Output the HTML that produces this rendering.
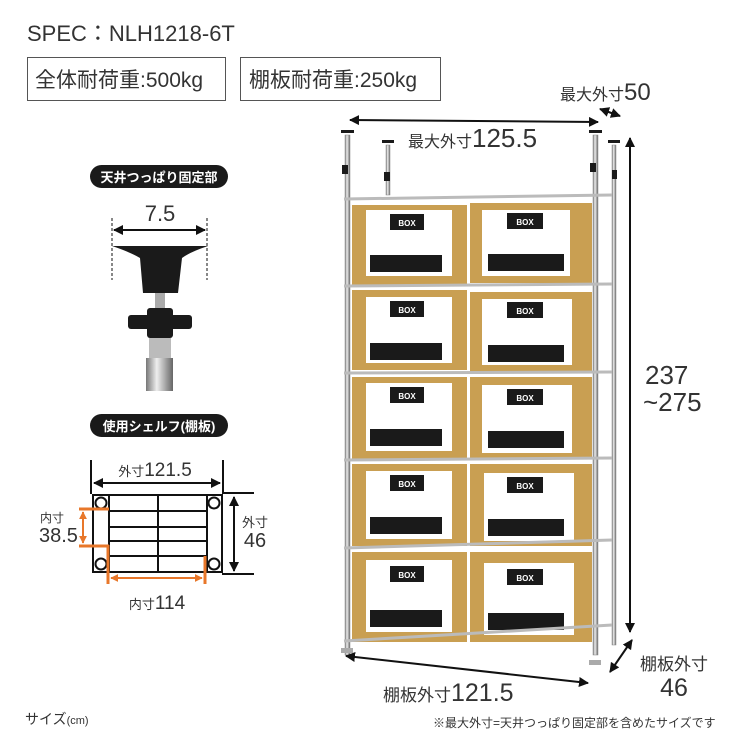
<!DOCTYPE html>
<html><head><meta charset="utf-8"><style>
body{margin:0;background:#fff}
svg{display:block;font-family:"Liberation Sans","Noto Sans CJK JP",sans-serif}
</style></head><body>
<svg width="750" height="750" viewBox="0 0 750 750" xmlns="http://www.w3.org/2000/svg">
<defs>
<marker id="a" viewBox="0 0 10 10" refX="9" refY="5" markerWidth="5" markerHeight="5" orient="auto-start-reverse"><path d="M0,0L10,5L0,10z" fill="#111"/></marker>
<marker id="o" viewBox="0 0 10 10" refX="9" refY="5" markerWidth="4" markerHeight="4" orient="auto-start-reverse"><path d="M0,0L10,5L0,10z" fill="#e8772a"/></marker>
<linearGradient id="pole" x1="0" x2="1"><stop offset="0" stop-color="#777"/><stop offset=".4" stop-color="#eee"/><stop offset="1" stop-color="#666"/></linearGradient>
</defs>
<text x="27" y="41" font-size="22" fill="#333">SPEC：NLH1218-6T</text>
<rect x="27.5" y="57.5" width="198" height="43" fill="#fff" stroke="#555"/>
<text x="35" y="87" font-size="21" fill="#333">全体耐荷重:500kg</text>
<rect x="240.5" y="57.5" width="200" height="43" fill="#fff" stroke="#555"/>
<text x="249" y="87" font-size="21" fill="#333">棚板耐荷重:250kg</text>

<!-- left panel -->
<rect x="90" y="165" width="138" height="23" rx="11.5" fill="#1a1a1a"/>
<text x="159" y="182" font-size="13" font-weight="bold" fill="#fff" text-anchor="middle">天井つっぱり固定部</text>
<text x="160" y="221" font-size="22" fill="#333" text-anchor="middle">7.5</text>
<line x1="112" y1="218" x2="112" y2="280" stroke="#111" stroke-dasharray="3,2"/>
<line x1="207" y1="218" x2="207" y2="280" stroke="#111" stroke-dasharray="3,2"/>
<line x1="114" y1="230" x2="205" y2="230" stroke="#111" stroke-width="2" marker-start="url(#a)" marker-end="url(#a)"/>
<path d="M112,246 L208,246 Q190,252 182,258 L178,293 L143,293 L140,258 Q130,252 112,246z" fill="#1a1a1a"/>
<rect x="155" y="293" width="10" height="20" fill="#aaa"/>
<rect x="128" y="315" width="64" height="14" rx="3" fill="#1a1a1a"/>
<rect x="147" y="308" width="26" height="30" rx="3" fill="#1a1a1a"/>
<rect x="149" y="338" width="22" height="20" fill="#bbb"/>
<rect x="146" y="358" width="27" height="33" fill="url(#pole)"/>

<rect x="90" y="414" width="138" height="23" rx="11.5" fill="#1a1a1a"/>
<text x="159" y="431" font-size="13" font-weight="bold" fill="#fff" text-anchor="middle">使用シェルフ(棚板)</text>
<text x="155" y="476" font-size="19" fill="#333" text-anchor="middle"><tspan font-size="13">外寸</tspan>121.5</text>
<line x1="91" y1="460" x2="91" y2="494" stroke="#111" stroke-width="2"/>
<line x1="223" y1="460" x2="223" y2="494" stroke="#111" stroke-width="2"/>
<line x1="94" y1="483" x2="220" y2="483" stroke="#111" stroke-width="2" marker-start="url(#a)" marker-end="url(#a)"/>
<g stroke="#111" stroke-width="2" fill="none">
<rect x="93" y="495" width="129" height="77"/>
<line x1="109" y1="495" x2="109" y2="572"/><line x1="207" y1="495" x2="207" y2="572"/>
<line x1="158" y1="495" x2="158" y2="572"/>
<line x1="109" y1="511" x2="207" y2="511"/><line x1="109" y1="527" x2="207" y2="527"/>
<line x1="109" y1="541" x2="207" y2="541"/><line x1="109" y1="556" x2="207" y2="556"/>
<circle cx="101" cy="503" r="5.5"/><circle cx="214" cy="503" r="5.5"/>
<circle cx="101" cy="564" r="5.5"/><circle cx="214" cy="564" r="5.5"/>
<line x1="222" y1="493" x2="254" y2="493"/><line x1="222" y1="574" x2="254" y2="574"/>
</g>
<line x1="234" y1="497" x2="234" y2="571" stroke="#111" stroke-width="2" marker-start="url(#a)" marker-end="url(#a)"/>
<text x="255" y="527" font-size="13" fill="#333" text-anchor="middle">外寸</text>
<text x="255" y="547" font-size="20" fill="#333" text-anchor="middle">46</text>
<g stroke="#e8772a" stroke-width="3">
<line x1="79" y1="509" x2="109" y2="509"/><line x1="79" y1="546" x2="109" y2="546"/>
<line x1="108" y1="545" x2="108" y2="584"/><line x1="205" y1="556" x2="205" y2="584"/>
</g>
<line x1="83" y1="512" x2="83" y2="543" stroke="#e8772a" stroke-width="2" marker-start="url(#o)" marker-end="url(#o)"/>
<line x1="111" y1="578" x2="202" y2="578" stroke="#e8772a" stroke-width="2" marker-start="url(#o)" marker-end="url(#o)"/>
<text x="40" y="522" font-size="12" fill="#333">内寸</text>
<text x="39" y="542" font-size="20" fill="#333">38.5</text>
<text x="157" y="609" font-size="19" fill="#333" text-anchor="middle"><tspan font-size="13">内寸</tspan>114</text>

<!-- shelf -->
<g fill="#ccc" stroke="#888" stroke-width="0.5">
<rect x="345" y="135" width="5" height="520" fill="url(#pole)"/>
<rect x="386" y="145" width="4" height="50" fill="url(#pole)"/>
<rect x="593" y="135" width="5" height="520" fill="url(#pole)"/>
<rect x="612" y="145" width="4" height="500" fill="url(#pole)"/>
</g>
<g fill="#1a1a1a">
<rect x="341" y="130" width="13" height="3"/><rect x="382" y="140" width="12" height="3"/>
<rect x="589" y="130" width="13" height="3"/><rect x="608" y="140" width="12" height="3"/>
<rect x="342" y="165" width="6" height="9"/><rect x="384" y="172" width="6" height="9"/>
<rect x="590" y="163" width="6" height="9"/><rect x="612" y="170" width="5" height="9"/>
</g>
<g fill="#c99f52">
<rect x="352" y="205" width="115" height="80"/><rect x="470" y="203" width="122" height="80"/>
<rect x="352" y="290" width="115" height="80"/><rect x="470" y="292" width="122" height="80"/>
<rect x="352" y="377" width="115" height="82"/><rect x="470" y="377" width="122" height="82"/>
<rect x="352" y="464" width="115" height="82"/><rect x="470" y="464" width="122" height="82"/>
<rect x="352" y="552" width="115" height="90"/><rect x="470" y="552" width="122" height="90"/>
</g>
<g fill="#fff">
<rect x="366" y="210" width="86" height="66"/><rect x="482" y="210" width="88" height="66"/>
<rect x="366" y="297" width="86" height="66"/><rect x="482" y="299" width="90" height="66"/>
<rect x="366" y="383" width="86" height="68"/><rect x="482" y="385" width="90" height="68"/>
<rect x="366" y="471" width="86" height="68"/><rect x="484" y="473" width="90" height="68"/>
<rect x="366" y="560" width="86" height="72"/><rect x="484" y="563" width="90" height="72"/>
</g>
<g fill="#1a1a1a">
<rect x="390" y="214" width="34" height="16"/><rect x="507" y="213" width="36" height="16"/>
<rect x="370" y="255" width="72" height="17"/><rect x="488" y="254" width="76" height="17"/>
<rect x="390" y="301" width="34" height="16"/><rect x="507" y="302" width="36" height="16"/>
<rect x="370" y="343" width="72" height="17"/><rect x="488" y="345" width="76" height="17"/>
<rect x="390" y="387" width="34" height="16"/><rect x="507" y="389" width="36" height="16"/>
<rect x="370" y="429" width="72" height="17"/><rect x="488" y="431" width="76" height="17"/>
<rect x="390" y="475" width="34" height="16"/><rect x="507" y="477" width="36" height="16"/>
<rect x="370" y="517" width="72" height="17"/><rect x="488" y="519" width="76" height="17"/>
<rect x="390" y="566" width="34" height="16"/><rect x="507" y="569" width="36" height="16"/>
<rect x="370" y="610" width="72" height="17"/><rect x="488" y="613" width="76" height="17"/>
</g>
<g fill="#fff" font-size="8" font-weight="bold" text-anchor="middle">
<text x="407" y="226">BOX</text><text x="525" y="225">BOX</text>
<text x="407" y="313">BOX</text><text x="525" y="314">BOX</text>
<text x="407" y="399">BOX</text><text x="525" y="401">BOX</text>
<text x="407" y="487">BOX</text><text x="525" y="489">BOX</text>
<text x="407" y="578">BOX</text><text x="525" y="581">BOX</text>
</g>
<g stroke="#bbb" stroke-width="3">
<line x1="344" y1="199" x2="612" y2="195"/>
<line x1="344" y1="286" x2="612" y2="284"/>
<line x1="344" y1="373" x2="612" y2="372"/>
<line x1="344" y1="460" x2="612" y2="458"/>
<line x1="344" y1="548" x2="612" y2="540"/>
<line x1="344" y1="641" x2="612" y2="625"/>
</g>
<g fill="#aaa"><rect x="341" y="648" width="12" height="5"/><rect x="589" y="660" width="12" height="5"/></g>

<!-- dimensions -->
<line x1="350" y1="120" x2="598" y2="122" stroke="#111" stroke-width="2" marker-start="url(#a)" marker-end="url(#a)"/>
<text x="408" y="147" font-size="16" fill="#333">最大外寸<tspan font-size="26">125.5</tspan></text>
<text x="560" y="100" font-size="16" fill="#333">最大外寸<tspan font-size="24">50</tspan></text>
<line x1="600" y1="109" x2="620" y2="116" stroke="#111" stroke-width="2" marker-start="url(#a)" marker-end="url(#a)"/>
<line x1="630" y1="138" x2="630" y2="632" stroke="#111" stroke-width="2" marker-start="url(#a)" marker-end="url(#a)"/>
<text x="645" y="384" font-size="26" fill="#333">237</text>
<text x="643" y="411" font-size="26" fill="#333">~275</text>
<line x1="346" y1="656" x2="588" y2="683" stroke="#111" stroke-width="2" marker-start="url(#a)" marker-end="url(#a)"/>
<text x="383" y="701" font-size="17" fill="#333">棚板外寸<tspan font-size="25">121.5</tspan></text>
<line x1="632" y1="640" x2="610" y2="672" stroke="#111" stroke-width="2" marker-start="url(#a)" marker-end="url(#a)"/>
<text x="674" y="670" font-size="17" fill="#333" text-anchor="middle">棚板外寸</text>
<text x="674" y="696" font-size="25" fill="#333" text-anchor="middle">46</text>
<text x="25" y="724" font-size="14" fill="#333">サイズ<tspan font-size="11">(cm)</tspan></text>
<text x="433" y="727" font-size="12" fill="#333">※最大外寸=天井つっぱり固定部を含めたサイズです</text>
</svg>
</body></html>
